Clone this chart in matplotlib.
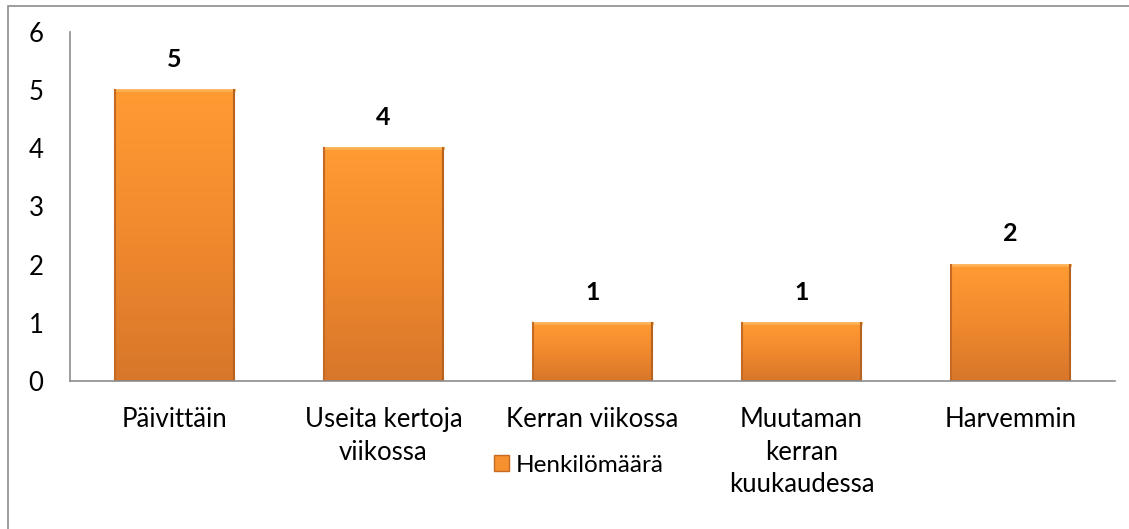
import numpy as np
import matplotlib.pyplot as plt
from matplotlib.patches import Rectangle
from matplotlib.colors import LinearSegmentedColormap

categories = ["Päivittäin", "Useita kertoja\nviikossa", "Kerran viikossa",
              "Muutaman\nkerran\nkuukaudessa", "Harvemmin"]
values = [5, 4, 1, 1, 2]
series_name = "Henkilömäärä"

plt.rcParams['font.family'] = ['Lato', 'DejaVu Sans']

W, H = 1129, 529
fig = plt.figure(figsize=(W / 100, H / 100), dpi=100)
ax = fig.add_axes([70 / W, 1 - 381 / H, (1115 - 70) / W, (381 - 32) / H])

# outer chart border
fig.patches.append(Rectangle((8 / W, -0.05), 1.1, 1 - 6 / H + 0.05, transform=fig.transFigure,
                             fill=False, edgecolor='#8c8c8c', linewidth=1.2))

x = np.arange(len(categories))
width = 0.57
bars = ax.bar(x, values, width, color='#F7902F', edgecolor='none', zorder=2,
              label=series_name)

# vertical gradient on each bar
grad = np.linspace(0, 1, 256).reshape(-1, 1)
cmap = LinearSegmentedColormap.from_list('og', ['#D8762A', '#F08A2E', '#FF9B33'])
for b in bars:
    bx, by = b.get_x(), b.get_y()
    bw, bh = b.get_width(), b.get_height()
    im = ax.imshow(grad, extent=(bx, bx + bw, by, by + bh), origin='lower',
                   cmap=cmap, aspect='auto', zorder=3)
    im.set_clip_path(b)
    # bevel edges
    ax.plot([bx, bx + bw], [by + bh, by + bh], color='#FFB050', lw=2, zorder=4)
    ax.plot([bx, bx], [by, by + bh], color='#C46A25', lw=1.5, zorder=4)
    ax.plot([bx + bw, bx + bw], [by, by + bh], color='#B8621F', lw=1.5, zorder=4)
    ax.plot([bx, bx + bw], [by, by], color='#B55F1F', lw=1.5, zorder=4)

for xi, v in zip(x, values):
    ax.text(xi, v + 0.33, str(v), ha='center', va='bottom', fontsize=18,
            fontweight='bold', color='black')

ax.set_xlim(-0.5, len(categories) - 0.5)
ax.set_ylim(0, 6)
ax.set_yticks(range(0, 7))
ax.set_xticks(x)
ax.set_xticklabels(categories, fontsize=18.5, linespacing=1.36)
ax.tick_params(axis='y', length=0, pad=19, labelsize=18.5)
ax.tick_params(axis='x', length=0, pad=19)
for s in ['top', 'right']:
    ax.spines[s].set_visible(False)
for s in ['left', 'bottom']:
    ax.spines[s].set_color('#8c8c8c')
    ax.spines[s].set_linewidth(1.2)
ax.spines['left'].set_zorder(5)
ax.spines['bottom'].set_zorder(5)

h = Rectangle((0, 0), 1, 1, facecolor='#F7902F', edgecolor='#C46A25')
fig.legend([h], [series_name], loc='center', bbox_to_anchor=(579 / W, 1 - 465 / H),
           frameon=False, fontsize=17.5, handlelength=0.6, handleheight=0.6,
           handletextpad=0.3, borderpad=0, borderaxespad=0)

fig.savefig('out.png', dpi=100)
